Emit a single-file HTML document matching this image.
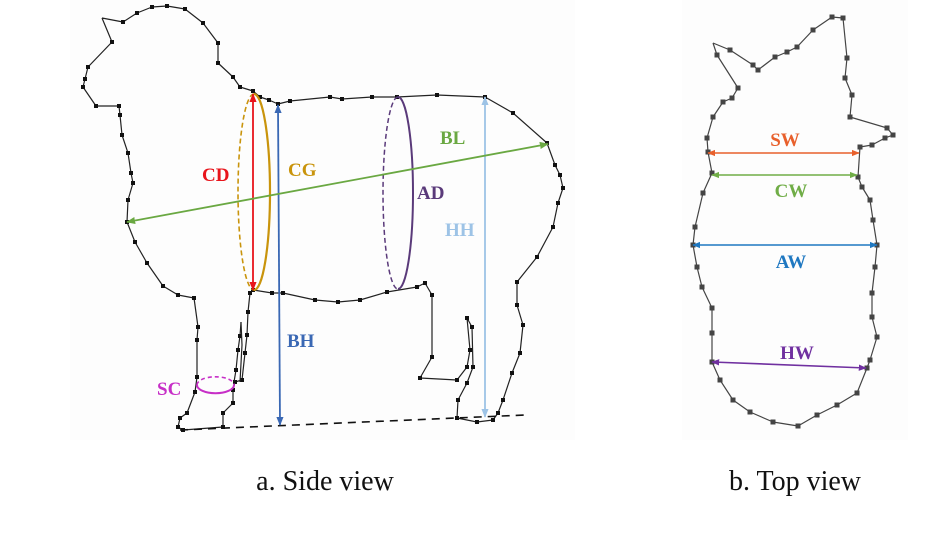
<!DOCTYPE html>
<html><head><meta charset="utf-8"><style>
html,body{margin:0;padding:0;background:#fff;width:943px;height:540px;overflow:hidden}
svg{display:block}
text{font-family:"Liberation Serif",serif}
.lb{font-weight:bold;font-size:19px}
</style></head><body>
<svg width="943" height="540" viewBox="0 0 943 540" xmlns="http://www.w3.org/2000/svg">
<defs>
<marker id="ar" viewBox="0 0 10 10" refX="9" refY="5" markerWidth="5" markerHeight="5" orient="auto-start-reverse"><path d="M0,1 L10,5 L0,9 z" fill="context-stroke"/></marker>
<marker id="dot" viewBox="0 0 4 4" refX="2" refY="2" markerWidth="4" markerHeight="4" markerUnits="userSpaceOnUse"><rect width="4" height="4" fill="#111"/></marker>
<marker id="dot2" viewBox="0 0 4 4" refX="2" refY="2" markerWidth="5" markerHeight="5" markerUnits="userSpaceOnUse"><rect width="4" height="4" fill="#444"/></marker>
</defs>
<rect x="70" y="0" width="505" height="440" fill="#fdfdfd"/>
<rect x="682" y="0" width="226" height="440" fill="#fdfdfd"/>
<polyline fill="none" stroke="#222" stroke-width="1.2" stroke-linejoin="round" marker-mid="url(#dot)"
points="102,18 123,22 137,13 152,7 167,6 185,9 203,23 218,43 218,63 233,77 240,87 253,91 260,97 269,100 278,104 290,101 330,97 342,99 372,97 397,97 437,95 485,97 513,113 547,143 555,165 560,175 563,188 558,203 553,227 537,257 517,282 517,305 523,325 520,353 512,373 503,400 498,413 493,420 477,422 457,418 458,400 467,383 473,367 472,327 467,318 470,350 467,367 457,380 420,378 432,357 432,295 425,283 417,287 387,292 360,300 338,302 315,300 283,293 272,293 253,290 250,293 248,312 247,335 245,353 242,380 235,382 233,390 233,403 223,413 223,427 183,430 178,427 180,418 187,413 195,392 197,377 197,340 198,327 194,298 178,295 163,286 147,263 135,242 127,222 128,200 133,183 131,173 128,153 122,135 120,115 119,106 96,106 83,87 85,79 88,67 112,42 102,18"/>
<polyline fill="none" stroke="#222" stroke-width="1.2" marker-mid="url(#dot)" points="241,322 240,336 238,350 236,370 234,382"/>
<polyline fill="none" stroke="#222" stroke-width="1.2" points="241,322 242,345 240,382"/>
<line x1="180" y1="430" x2="525" y2="415" stroke="#111" stroke-width="1.6" stroke-dasharray="8,6"/>
<path d="M254,94 A16,98 0 0 1 254,290" fill="none" stroke="#c9940c" stroke-width="2.2"/>
<path d="M254,94 A16,98 0 0 0 254,290" fill="none" stroke="#c9940c" stroke-width="1.6" stroke-dasharray="5,3"/>
<line x1="253" y1="94" x2="253" y2="290" stroke="#e8141b" stroke-width="1.8" marker-start="url(#ar)" marker-end="url(#ar)"/>
<path d="M398,97 A15,96 0 0 1 398,289" fill="none" stroke="#5a3a7a" stroke-width="2"/>
<path d="M398,97 A15,96 0 0 0 398,289" fill="none" stroke="#5a3a7a" stroke-width="1.5" stroke-dasharray="5,3"/>
<line x1="278" y1="105" x2="280" y2="425" stroke="#3a68b4" stroke-width="1.8" marker-start="url(#ar)" marker-end="url(#ar)"/>
<line x1="485" y1="97" x2="485" y2="417" stroke="#9dc3e6" stroke-width="1.8" marker-start="url(#ar)" marker-end="url(#ar)"/>
<line x1="127" y1="222" x2="548" y2="144" stroke="#6aa842" stroke-width="1.8" marker-start="url(#ar)" marker-end="url(#ar)"/>
<path d="M197,385 A18,8 0 0 0 234,385" fill="none" stroke="#c72fc7" stroke-width="2"/>
<path d="M197,385 A18,8 0 0 1 234,385" fill="none" stroke="#c72fc7" stroke-width="1.6" stroke-dasharray="4,3"/>
<text class="lb" x="202" y="181" fill="#e8141b">CD</text>
<text class="lb" x="288" y="176" fill="#c9940c">CG</text>
<text class="lb" x="440" y="144" fill="#6aa842">BL</text>
<text class="lb" x="417" y="199" fill="#5a3a7a">AD</text>
<text class="lb" x="445" y="236" fill="#9dc3e6">HH</text>
<text class="lb" x="287" y="347" fill="#3a68b4">BH</text>
<text class="lb" x="157" y="395" fill="#c72fc7">SC</text>
<polyline fill="none" stroke="#444" stroke-width="1.2" stroke-linejoin="round" marker-mid="url(#dot2)"
points="713,43 717,55 738,88 732,98 723,102 713,117 707,138 708,152 712,173 703,193 695,227 693,245 697,267 702,287 712,308 712,333 712,362 720,380 733,400 750,412 773,422 798,426 817,415 837,405 857,393 867,368 870,360 877,337 872,317 872,293 875,267 877,245 873,220 870,200 862,187 858,177 860,147 872,145 885,138 893,135 887,128 850,117 852,95 845,78 847,58 843,18 832,17 813,30 797,47 787,52 775,57 758,70 753,65 730,50 713,43"/>
<line x1="708" y1="153" x2="859" y2="153" stroke="#e8602c" stroke-width="1.6" marker-start="url(#ar)" marker-end="url(#ar)"/>
<line x1="712" y1="175" x2="857" y2="175" stroke="#70ad47" stroke-width="1.6" marker-start="url(#ar)" marker-end="url(#ar)"/>
<line x1="693" y1="245" x2="877" y2="245" stroke="#1f78c1" stroke-width="1.6" marker-start="url(#ar)" marker-end="url(#ar)"/>
<line x1="712" y1="362" x2="866" y2="368" stroke="#7030a0" stroke-width="1.6" marker-start="url(#ar)" marker-end="url(#ar)"/>
<text class="lb" x="785" y="146" fill="#e8602c" text-anchor="middle">SW</text>
<text class="lb" x="791" y="197" fill="#70ad47" text-anchor="middle">CW</text>
<text class="lb" x="791" y="268" fill="#1f78c1" text-anchor="middle">AW</text>
<text class="lb" x="797" y="359" fill="#7030a0" text-anchor="middle">HW</text>
<text x="325" y="490" font-size="28" text-anchor="middle" fill="#111">a. Side view</text>
<text x="795" y="490" font-size="28" text-anchor="middle" fill="#111">b. Top view</text>
</svg>
</body></html>
